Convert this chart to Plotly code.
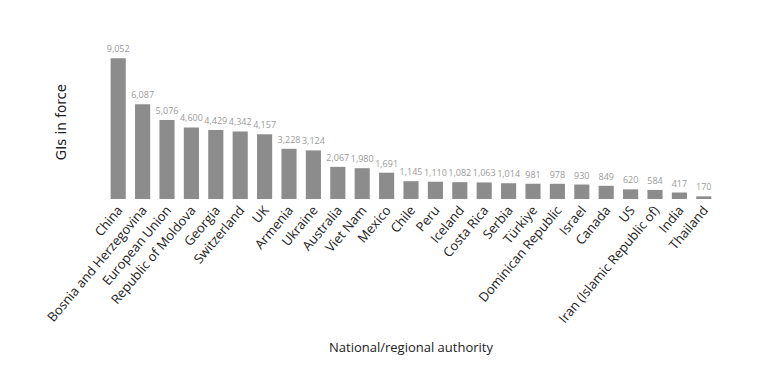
import plotly.graph_objects as go

categories = ["China", "Bosnia and Herzegovina", "European Union", "Republic of Moldova", "Georgia",
              "Switzerland", "UK", "Armenia", "Ukraine", "Australia", "Viet Nam", "Mexico", "Chile",
              "Peru", "Iceland", "Costa Rica", "Serbia", "Türkiye", "Dominican Republic", "Israel",
              "Canada", "US", "Iran (Islamic Republic of)", "India", "Thailand"]
values = [9052, 6087, 5076, 4600, 4429, 4342, 4157, 3228, 3124, 2067, 1980, 1691, 1145,
          1110, 1082, 1063, 1014, 981, 978, 930, 849, 620, 584, 417, 170]
value_labels = [f"{v:,}" for v in values]

fig = go.Figure(go.Bar(
    x=categories, y=values,
    marker=dict(color="#8c8c8c", line=dict(width=0)),
    text=value_labels, textposition="outside", constraintext="none",
    textfont=dict(family="Open Sans", size=9, color="#9a9a9a"),
    cliponaxis=False,
))

fig.update_layout(
    width=782, height=370,
    margin=dict(l=98, r=74, t=37, b=179),
    paper_bgcolor="white", plot_bgcolor="white",
    bargap=0.38,
    showlegend=False,
    font=dict(family="Open Sans", color="#222"),
    xaxis=dict(
        tickangle=-50, tickfont=dict(family="Open Sans", size=13, color="#222"),
        showgrid=False, zeroline=False, showline=False, ticks="",
        title=dict(text="National/regional authority", font=dict(size=13, color="#222"), standoff=17),
    ),
    yaxis=dict(
        range=[0, 9900], showticklabels=False, showgrid=False, zeroline=False, showline=False, ticks="",
        title=dict(text="GIs in force", font=dict(family="DejaVu Sans", size=13.5, color="#222"), standoff=35),
    ),
)

fig.write_html("out.html")
